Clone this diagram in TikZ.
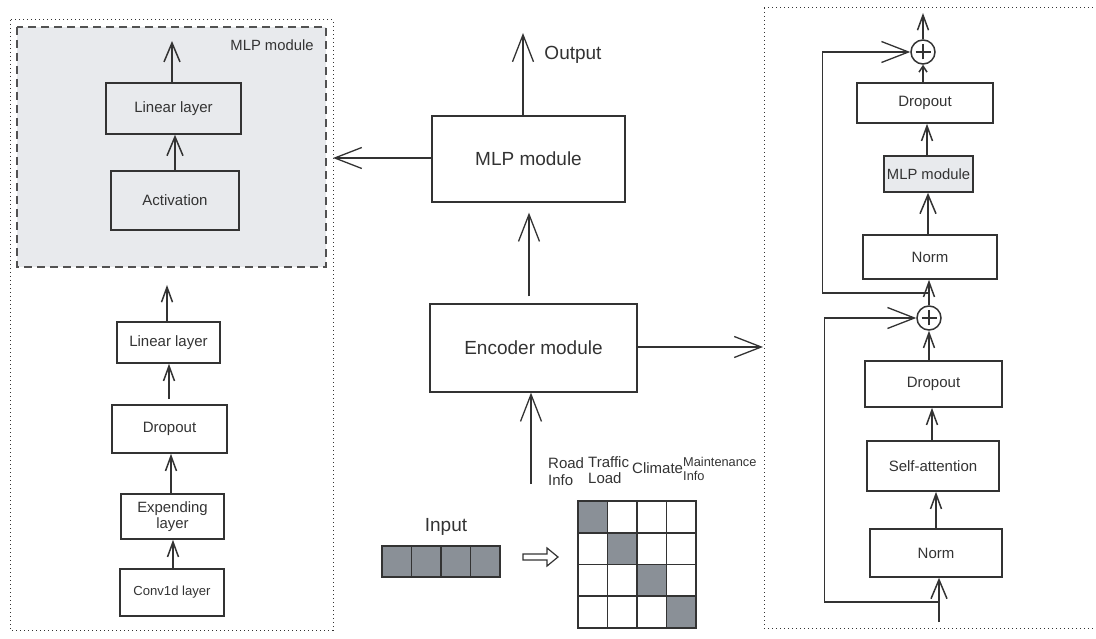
\documentclass[tikz,border=0pt]{standalone}
\usepackage{fontspec}
\setmainfont{Liberation Sans}
\usetikzlibrary{arrows.meta}
\definecolor{ink}{HTML}{333333}
\definecolor{panel}{HTML}{E8EAED}
\definecolor{cellgray}{HTML}{8A9097}
\begin{document}
\begin{tikzpicture}[x=1pt,y=-1pt,
  box/.style={draw=ink, line width=1.6pt, inner sep=0pt, text=ink, align=center, font=\fontsize{15}{17}\selectfont},
  bigbox/.style={box, line width=1.3pt, font=\fontsize{19}{22}\selectfont},
  lbl/.style={text=ink, inner sep=0pt, align=left},
  bigarr/.style={draw=ink, line width=1.3pt, -{Straight Barb[length=27pt,width=21pt]}},
  midarr/.style={draw=ink, line width=1.5pt, -{Straight Barb[length=19pt,width=16pt]}},
  smarr/.style={draw=ink, line width=1.5pt, -{Straight Barb[length=15pt,width=11pt]}},
  tinyarr/.style={draw=ink, line width=1.5pt, -{Straight Barb[length=6pt,width=8pt]}},
  dotbox/.style={draw=ink, line width=1pt, dash pattern=on 1pt off 3pt},
  plusnode/.style={circle, draw=ink, line width=1.5pt, minimum size=24pt, inner sep=0pt}
]
\useasboundingbox (0,0) rectangle (1096,639);

% ---------- left panel ----------
\draw[dotbox] (10,20) rectangle (333,630);
\draw[draw=ink!85, fill=panel, line width=1.4pt, dash pattern=on 8pt off 5pt] (17,27) rectangle (326,267);
\node[lbl, font=\fontsize{14.8}{17}\selectfont] (mlplbl) at (272,45) {MLP module};

\node[box, minimum width=135pt, minimum height=51pt] (lin1) at (173.5,108.5) {Linear layer};
\node[box, minimum width=128pt, minimum height=59pt] (act) at (175,200.5) {Activation};
\coordinate (lin1out) at (172,41);
\draw[midarr] (act.north) -- (lin1.south -| act.north);
\draw[midarr] (lin1.north -| lin1out) -- (lin1out);

\node[box, minimum width=103pt, minimum height=41pt] (lin2) at (168.5,342.5) {Linear layer};
\node[box, minimum width=115pt, minimum height=48pt] (drop1) at (169.5,429) {Dropout};
\node[box, minimum width=103pt, minimum height=45pt, font=\fontsize{14.9}{16.5}\selectfont] (exp) at (172.5,516.5) {Expending\\layer};
\node[box, minimum width=104pt, minimum height=47pt, font=\fontsize{13.1}{15}\selectfont] (conv) at (172,592.5) {Conv1d layer};
\coordinate (lin2out) at (167,285);
\draw[smarr] (conv.north -| 173,0) -- (exp.south -| 173,0);
\draw[smarr] (exp.north -| 171,0) -- (drop1.south -| 171,0);
\draw[smarr, shorten <=5pt] (drop1.north -| 169,0) -- (lin2.south -| 169,0);
\draw[smarr] (lin2.north -| lin2out) -- (lin2out);

% ---------- centre ----------
\node[bigbox, minimum width=193pt, minimum height=86pt] (mlp) at (528.5,159) {MLP module};
\node[bigbox, minimum width=207pt, minimum height=88pt] (enc) at (533.5,348) {Encoder module};
\coordinate (outp) at (523,33);
\coordinate (leftin) at (333,158);
\coordinate (rightin) at (763,347);
\coordinate (inp) at (531,484);
\draw[bigarr] (mlp.north -| outp) -- (outp);
\node[lbl, font=\fontsize{19}{22}\selectfont] (outlbl) at (573,55) {Output};
\draw[bigarr] (mlp.west |- leftin) -- (leftin);
\draw[bigarr, shorten <=7pt, shorten >=10pt] (enc.north -| 529,0) -- (mlp.south -| 529,0);
\draw[bigarr] (enc.east |- rightin) -- (rightin);
\draw[bigarr] (inp) -- (enc.south -| inp);

% labels above grid
\node[lbl, anchor=west, font=\fontsize{15}{17}\selectfont] (road) at (548,471.5) {Road\\Info};
\node[lbl, anchor=west, font=\fontsize{15}{16}\selectfont] (traffic) at (588,470) {Traffic\\Load};
\node[lbl, anchor=west, font=\fontsize{15}{17}\selectfont] (climate) at (632,468) {Climate};
\node[lbl, anchor=west, font=\fontsize{12.8}{14}\selectfont] (maint) at (683,469) {Maintenance\\Info};

% grid
\foreach \i in {0,...,3}{
  \foreach \j in {0,...,3}{
    \pgfmathsetmacro{\xa}{578+29.5*\i}
    \pgfmathsetmacro{\ya}{501+31.75*\j}
    \ifnum\i=\j
      \draw[draw=ink, fill=cellgray, line width=1.6pt] (\xa,\ya) rectangle ++(29.5,31.75);
    \else
      \draw[draw=ink, fill=white, line width=1.6pt] (\xa,\ya) rectangle ++(29.5,31.75);
    \fi
  }
}

% input row
\node[lbl, font=\fontsize{19}{22}\selectfont] (inlbl) at (446,527) {Input};
\foreach \i in {0,...,3}{
  \pgfmathsetmacro{\xa}{382+29.5*\i}
  \draw[draw=ink, fill=cellgray, line width=1.6pt] (\xa,546) rectangle ++(29.5,31);
}
% hollow arrow
\draw[draw=ink, line width=1.2pt, fill=white] (523,554) -- (547,554) -- (547,548) -- (558,557) -- (547,566) -- (547,560) -- (523,560) -- cycle;

% ---------- right panel ----------
\draw[dotbox] (764,8) -- (1110,8);
\draw[dotbox] (764,8) -- (764,628) -- (1110,628);

\node[plusnode] (p1) at (923,52) {};
\node[box, minimum width=136pt, minimum height=40pt] (drop2) at (925,103) {Dropout};
\node[box, fill=panel, minimum width=89pt, minimum height=36pt, font=\fontsize{14.8}{17}\selectfont] (mlp2) at (928.5,174) {MLP module};
\node[box, minimum width=134pt, minimum height=44pt] (norm1) at (930,257) {Norm};
\node[plusnode] (p2) at (929,318) {};
\node[box, minimum width=137pt, minimum height=46pt] (drop3) at (933.5,384) {Dropout};
\node[box, minimum width=132pt, minimum height=50pt] (sa) at (933,466) {Self-attention};
\node[box, minimum width=132pt, minimum height=48pt] (norm2) at (936,553) {Norm};

\foreach \p in {p1,p2}{
  \draw[ink, line width=2.8pt] ([xshift=-7.5pt]\p.center) -- ([xshift=7.5pt]\p.center);
  \draw[ink, line width=2.8pt] ([yshift=-7.5pt]\p.center) -- ([yshift=7.5pt]\p.center);
}

\coordinate (rout) at (923,13);
\coordinate (j1) at (928,293);
\coordinate (in2) at (939,622);
\coordinate (j2) at (939,602);

\draw[smarr] (p1.north) -- (rout);
\draw[tinyarr] (drop2.north -| p1.south) -- (p1.south);
\draw[smarr] (mlp2.north -| 927,0) -- (drop2.south -| 927,0);
\draw[midarr] (norm1.north -| 928,0) -- (mlp2.south -| 928,0);
\draw[smarr] (p2.north) -- (norm1.south -| p2.north);
\draw[bigarr] (j1) -| ([xshift=-88pt]p1.west) -- (p1.west);

\draw[smarr] (drop3.north -| p2.south) -- (p2.south);
\draw[smarr] (sa.north -| 932,0) -- (drop3.south -| 932,0);
\draw[smarr] (norm2.north -| 936,0) -- (sa.south -| 936,0);
\draw[midarr] (in2) -- (norm2.south -| in2);
\draw[bigarr] (j2) -| ([xshift=-92pt]p2.west) -- (p2.west);
\end{tikzpicture}
\end{document}
